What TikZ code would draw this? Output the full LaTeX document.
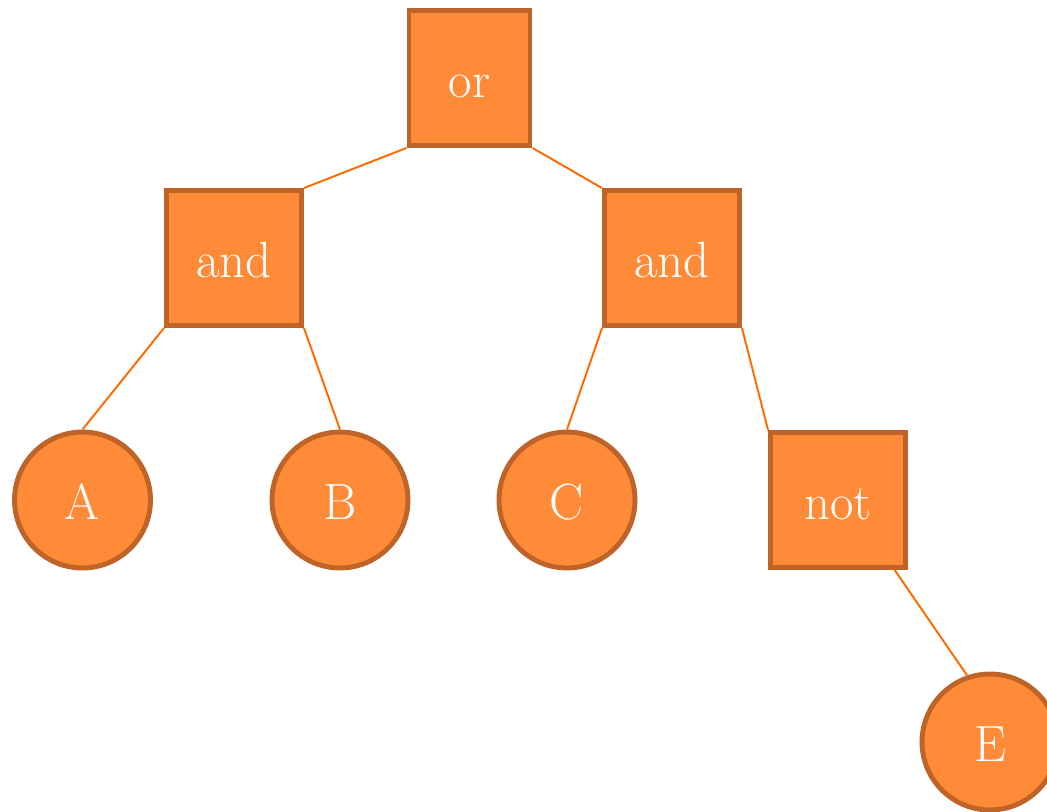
\documentclass[tikz,border=0pt]{standalone}
\usepackage[svgnames, dvipsnames]{xcolor}
\usetikzlibrary{calc, arrows.meta}
\definecolor{gatefill}{HTML}{FF8A38}
\definecolor{gatedraw}{HTML}{BE6428}
\definecolor{wire}{HTML}{FF6A00}
\tikzset{>=latex}

\begin{document}
\begin{tikzpicture}[x=0.02cm, y=-0.02cm,
  gate/.style={rectangle, fill=gatefill, draw=gatedraw, line width=2.8pt, text=white,
    minimum width=2.7cm, minimum height=2.7cm, text height=22pt, text depth=0pt,
    font=\fontsize{29}{34}\selectfont},
  leaf/.style={circle, fill=gatefill, draw=gatedraw, line width=2.8pt, text=white,
    minimum size=2.72cm, text height=22pt, text depth=0pt,
    font=\fontsize{29}{34}\selectfont},
  wire/.style={draw=wire, line width=1.1pt}]
\useasboundingbox (0,0) rectangle (1047,811);
% expression tree: operators as boxes, variables as circles
\node[gate, minimum width=2.42cm] (or)   at (469.5,78) {or};
\node[gate] (andL) at (234,258) {and};
\node[gate] (andR) at (672,258) {and};
\node[leaf] (A)    at (82.5,500) {A};
\node[leaf] (B)    at (340,500)  {B};
\node[leaf] (C)    at (567,500)  {C};
\node[gate] (not)  at (838,500)  {not};
\node[leaf] (E)    at (990,742)  {E};
\path
(or.south west)   edge[wire] (andL.north east)
(or.south east)   edge[wire] (andR.north west)
(andL.south west) edge[wire] (A.north)
(andL.south east) edge[wire] (B.north)
(andR.south west) edge[wire] (C.north)
(andR.south east) edge[wire] (not.north west)
(not.-51)         edge[wire] (E.109);
\end{tikzpicture}
\end{document}
